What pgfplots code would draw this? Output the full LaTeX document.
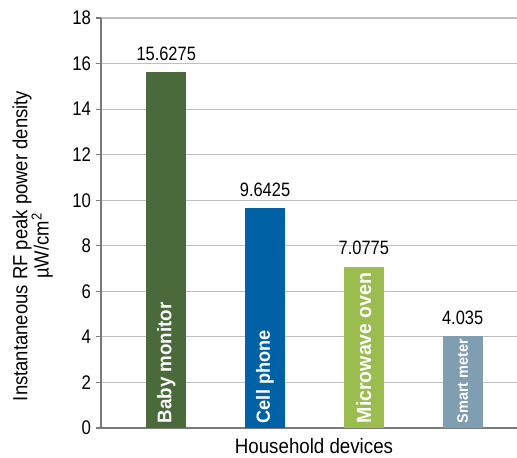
\documentclass[border=0pt]{standalone}
\usepackage{pgfplots}
\pgfplotsset{compat=1.18}
\usepackage{fontspec}
\setmainfont{Liberation Sans}[FakeStretch=0.85]
\newfontfamily\labelfont{Liberation Sans}[FakeStretch=0.9]
\newfontfamily\barfont{Liberation Sans}[FakeStretch=0.95]
\definecolor{babyc}{HTML}{4A6A3B}
\definecolor{cellc}{HTML}{0062A5}
\definecolor{microc}{HTML}{9BBC4F}
\definecolor{smartc}{HTML}{7F9EB1}
\begin{document}
\begin{tikzpicture}
\begin{axis}[
  scale only axis, width=312pt, height=307.5pt,
  xmin=-0.66, xmax=3.55, ymin=0, ymax=18,
  ytick={0,2,...,18}, xtick=\empty,
  axis x line*=bottom, axis y line*=left,
  axis line style={draw=gray!95!black, line width=0.8pt},
  y tick style={draw=gray!95!black, line width=0.8pt},
  tick align=outside, major tick length=4pt,
  ymajorgrids, grid style={gray!50, line width=0.8pt},
  /pgf/number format/assume math mode=true,
  ticklabel style={font=\fontsize{14.8}{17}\selectfont},
  ylabel={Instantaneous RF peak power density\\µW/cm\textsuperscript{2}},
  ylabel style={font=\labelfont\fontsize{15.4}{16}\selectfont, align=center,
    at={(axis description cs:-0.115,0.444)}, anchor=south, inner sep=0pt},
  xlabel={Household devices},
  xlabel style={font=\labelfont\fontsize{15.6}{16}\selectfont,
    at={(axis description cs:0.512,-0.061)}, anchor=base, inner sep=0pt},
  ybar, bar width=30pt, bar shift=0pt,
  nodes near coords, point meta=explicit symbolic,
  every node near coord/.append style={font=\fontsize{14.5}{17}\selectfont, anchor=base, yshift=9pt},
  clip=false]
\addplot[fill=babyc, draw=none] coordinates {(0,15.6275)[15.6275]};
\addplot[fill=cellc, draw=none] coordinates {(1,9.6425)[9.6425]};
\addplot[fill=microc, draw=none] coordinates {(2,7.0775)[7.0775]};
\addplot[fill=smartc, draw=none] coordinates {(3,4.035)[4.035]};
\begin{scope}[every node/.style={rotate=90, anchor=west, text=white, inner sep=0pt}]
\node[font=\barfont\bfseries\fontsize{14.8}{17}\selectfont] at (axis cs:0,0.2) {Baby monitor};
\node[font=\barfont\bfseries\fontsize{14.3}{17}\selectfont] at (axis cs:1,0.2) {Cell phone};
\node[font=\barfont\bfseries\fontsize{15.4}{17}\selectfont] at (axis cs:2,0.2) {Microwave oven};
\node[font=\barfont\bfseries\fontsize{11.4}{14}\selectfont] at (axis cs:3,0.2) {Smart meter};
\end{scope}
\end{axis}
\pgfresetboundingbox
\path[use as bounding box] ([xshift=-75.75pt,yshift=-21.75pt]current axis.south west)
  rectangle ([yshift=13.5pt]current axis.north east);
\end{tikzpicture}
\end{document}
